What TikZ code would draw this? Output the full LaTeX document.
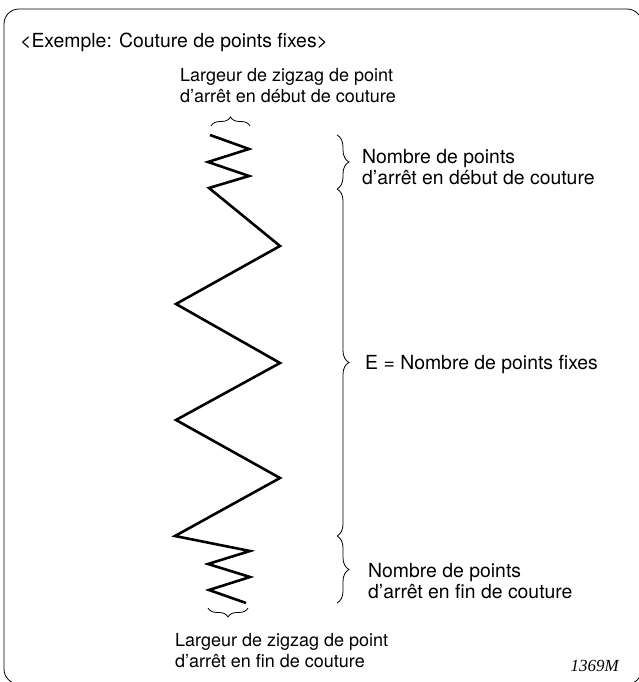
\documentclass[tikz,border=0pt]{standalone}
\usepackage{fontspec}
\setmainfont{TeX Gyre Heros}
\newfontfamily\codefont{Liberation Serif}
\usepackage{tikz}
\usetikzlibrary{decorations.pathreplacing}

\tikzset{
  lbl/.style={anchor=west,align=left,inner sep=0pt,font=\fontsize{18}{21}\selectfont},
  biglbl/.style={lbl,font=\fontsize{19.4}{21}\selectfont},
  brc/.style={decorate,decoration={brace,amplitude=#1},line width=0.8pt},
  brc/.default=12pt
}

\begin{document}
\begin{tikzpicture}[x=1pt,y=1pt]
        \useasboundingbox (0,0) rectangle (639,682);
        \clip (0,0) rectangle (639,682);
        \draw[line width=0.8pt,rounded corners=15pt] (4,-2) rectangle (642,673);
        % zigzag of the stitch
        \coordinate (s0) at (210,547);
        \coordinate (s1) at (249,533);
        \coordinate (s2) at (208,520);
        \coordinate (s3) at (249,506);
        \coordinate (s4) at (209,494);
        \coordinate (s5) at (280,436);
        \coordinate (s6) at (176,378);
        \coordinate (s7) at (280,319);
        \coordinate (s8) at (176,262);
        \coordinate (s9) at (280,204);
        \coordinate (s10) at (175,146);
        \coordinate (s11) at (250,131);
        \coordinate (s12) at (208,118);
        \coordinate (s13) at (250,105);
        \coordinate (s14) at (209,92);
        \coordinate (s15) at (246,79);
        \draw[line width=2.6pt] (s0) -- (s1) -- (s2) -- (s3) -- (s4) -- (s5) -- (s6) -- (s7)
          -- (s8) -- (s9) -- (s10) -- (s11) -- (s12) -- (s13) -- (s14) -- (s15);
        % braces
        \coordinate (bt1) at (211,556);
        \coordinate (bt2) at (250,556);
        \coordinate (bb1) at (248,74);
        \coordinate (bb2) at (208,74);
        \coordinate (r0) at (337,547);
        \coordinate (r1) at (337,493);
        \coordinate (r2) at (337,146);
        \coordinate (r3) at (337,79);
        \draw[brc=9pt] (bt1) -- (bt2);
        \draw[brc=9pt] (bb1) -- (bb2);
        \draw[brc] (r0) -- (r1);
        \draw[brc] (r1) -- (r2);
        \draw[brc] (r2) -- (r3);
        % labels
        \node[biglbl] (titre) at (20,640) {<Exemple: Couture de points fixes>};
        \node[lbl] (largdeb) at (180,596.5) {Largeur de zigzag de point\\d’arrêt en début de couture};
        \node[biglbl] (nbdeb) at (362,515) {Nombre de points\\d’arrêt en début de couture};
        \node[biglbl] (nbfix) at (365,317) {E = Nombre de points fixes};
        \node[biglbl] (nbfin) at (368,100.5) {Nombre de points\\d’arrêt en fin de couture};
        \node[lbl] (largfin) at (175,31.5) {Largeur de zigzag de point\\d’arrêt en fin de couture};
        \node[anchor=east,inner sep=0pt,font=\codefont\itshape\fontsize{17}{20}\selectfont] (code) at (619,16) {1369M};
      \end{tikzpicture}
\end{document}
